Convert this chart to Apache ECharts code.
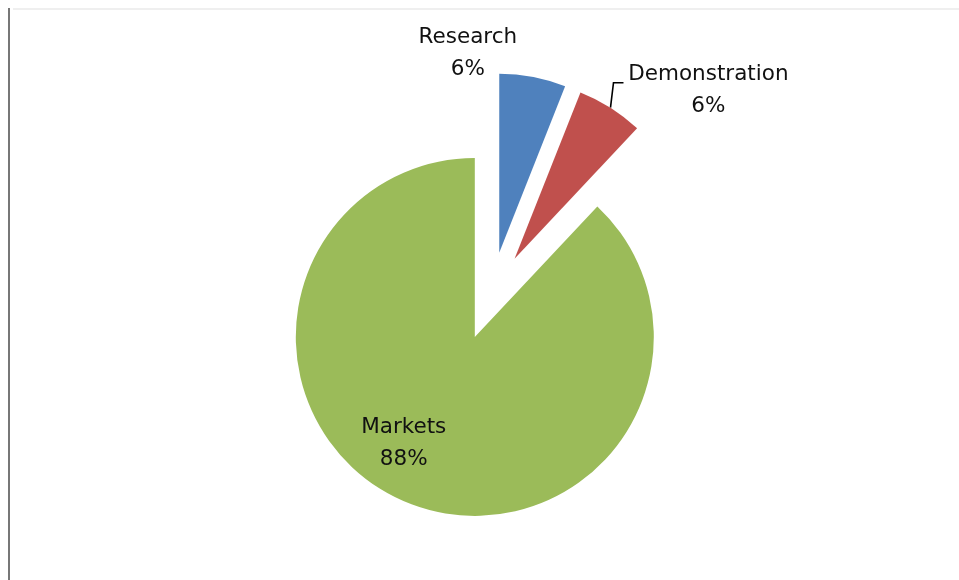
<!DOCTYPE html>
<html>
<head>
<meta charset="utf-8">
<style>
html,body{margin:0;padding:0;background:#fff;}
#chart{width:959px;height:580px;}
</style>
<script src="https://cdn.jsdelivr.net/npm/echarts@6/dist/echarts.min.js"></script>
</head>
<body>
<div id="chart"></div>
<script>
// ---- data ----
const categories = ['Research', 'Demonstration', 'Markets'];
const shares = [6, 6, 88];
// ---- styling ----
const sliceColors = ['#4F81BD', '#C0504D', '#9BBB59'];
const labelPlacement = ['outside', 'outside', 'inside'];
const labelShift = [[-133, -4], [-8, 0], [-37, 21]];
const showLeader = [false, true, false];

const chart = echarts.init(document.getElementById('chart'), null, {renderer: 'canvas'});

const seriesData = categories.map((name, i) => ({
  name: name,
  value: shares[i],
  selected: true,
  itemStyle: {color: sliceColors[i]},
  label: {position: labelPlacement[i]},
  labelLine: {show: showLeader[i]}
}));

chart.setOption({
  backgroundColor: '#ffffff',
  animation: false,
  graphic: [
    {type: 'rect', shape: {x: 8, y: 8, width: 2, height: 572}, style: {fill: '#777777'}, silent: true},
    {type: 'rect', shape: {x: 13, y: 8, width: 946, height: 2}, style: {fill: '#efefef'}, silent: true}
  ],
  series: [{
    type: 'pie',
    center: [491, 296],
    radius: 179,
    startAngle: 90,
    clockwise: true,
    selectedMode: 'multiple',
    selectedOffset: 44,
    avoidLabelOverlap: false,
    emphasis: {disabled: true},
    itemStyle: {borderWidth: 0},
    label: {
      show: true,
      color: '#111111',
      fontFamily: 'DejaVu Sans',
      fontSize: 21.5,
      lineHeight: 32,
      formatter: function (p) {
        return '{c|' + p.name + '}\n{c|' + Math.round(p.percent) + '%}';
      },
      rich: {
        c: {align: 'center', fontFamily: 'DejaVu Sans', fontSize: 21.5, lineHeight: 32, color: '#111111'}
      }
    },
    labelLine: {
      length: 20,
      length2: 10,
      smooth: false,
      lineStyle: {color: '#000000', width: 1.6}
    },
    labelLayout: function (params) {
      const s = labelShift[params.dataIndex];
      const out = {dx: s[0], dy: s[1]};
      const pts = params.labelLinePoints;
      if (showLeader[params.dataIndex] && pts && pts.length) {
        const p0 = pts[0];
        out.labelLinePoints = [
          [p0[0], p0[1]],
          [p0[0] + 3, p0[1] - 25],
          [p0[0] + 13, p0[1] - 25]
        ];
      }
      return out;
    },
    data: seriesData
  }]
});
</script>
</body>
</html>
